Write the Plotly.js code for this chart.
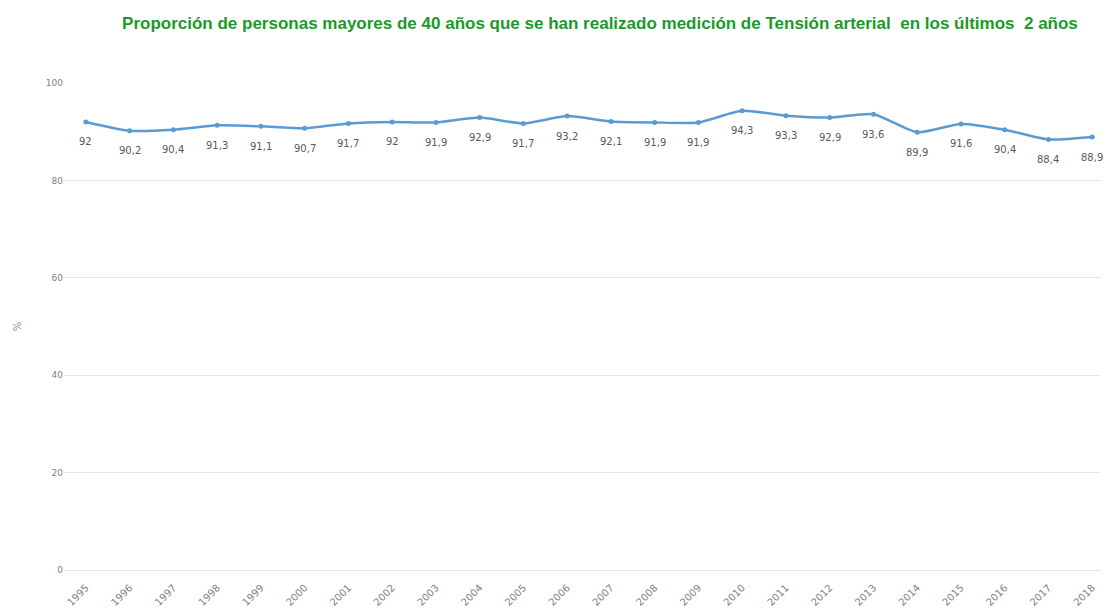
<!DOCTYPE html>
<html>
<head>
<meta charset="utf-8">
<script src="https://cdn.plot.ly/plotly-3.0.1.min.js"></script>
<style>html,body{margin:0;padding:0;background:#fff;}#chart{width:1111px;height:611px;}</style>
</head>
<body>
<div id="chart"></div>
<script>
const years = ["1995","1996","1997","1998","1999","2000","2001","2002","2003","2004","2005","2006","2007","2008","2009","2010","2011","2012","2013","2014","2015","2016","2017","2018"];
const values = [92, 90.2, 90.4, 91.3, 91.1, 90.7, 91.7, 92, 91.9, 92.9, 91.7, 93.2, 92.1, 91.9, 91.9, 94.3, 93.3, 92.9, 93.6, 89.9, 91.6, 90.4, 88.4, 88.9];
const yTicks = [0, 20, 40, 60, 80, 100];
const labels = values.map(v => String(v).replace('.', ','));

const trace = {
  x: years,
  y: values,
  type: 'scatter',
  mode: 'lines+markers',
  line: {color: '#5b9bd5', width: 2.5, shape: 'spline', smoothing: 0.6},
  marker: {color: '#5b9bd5', size: 5},
  cliponaxis: false,
  hoverinfo: 'x+y'
};

const annotations = years.map((yr, i) => ({
  x: i, y: values[i], xref: 'x', yref: 'y',
  text: labels[i], showarrow: false,
  yshift: -20,
  xanchor: 'center', yanchor: 'middle',
  font: {family: 'DejaVu Sans, sans-serif', size: 10, color: '#595959'}
}));

const layout = {
  width: 1111, height: 611,
  margin: {l: 64, r: 10, t: 83, b: 41},
  paper_bgcolor: '#ffffff',
  plot_bgcolor: '#ffffff',
  showlegend: false,
  annotations: annotations,
  title: {
    text: 'Proporción de personas mayores de 40 años que se han realizado medición de Tensión arterial  en los últimos  2 años',
    font: {family: 'Liberation Sans, Arial, sans-serif', size: 17, color: '#1a9a2a', weight: 'bold'},
    x: 0.540, xanchor: 'center', y: 0.963, yanchor: 'middle'
  },
  xaxis: {
    type: 'category',
    categoryarray: years,
    range: [-0.5, 23.2],
    tickangle: -45,
    tickfont: {family: 'DejaVu Sans, sans-serif', size: 10, color: '#7f7f7f'},
    showgrid: false,
    showline: false,
    zeroline: false,
    ticks: 'outside',
    ticklen: 7,
    tickcolor: 'rgba(0,0,0,0)',
    automargin: false
  },
  yaxis: {
    range: [0, 100],
    tickvals: yTicks,
    ticktext: yTicks.map(String),
    tickfont: {family: 'DejaVu Sans, sans-serif', size: 9, color: '#7f7f7f'},
    gridcolor: '#e6e6e6',
    gridwidth: 1,
    zeroline: true,
    zerolinecolor: '#e6e6e6',
    showline: false,
    ticks: '',
    title: {text: '%', font: {family: 'DejaVu Sans, sans-serif', size: 10, color: '#7f7f7f'}, standoff: 22}
  }
};

Plotly.newPlot('chart', [trace], layout, {displayModeBar: false, staticPlot: true});
</script>
</body>
</html>
